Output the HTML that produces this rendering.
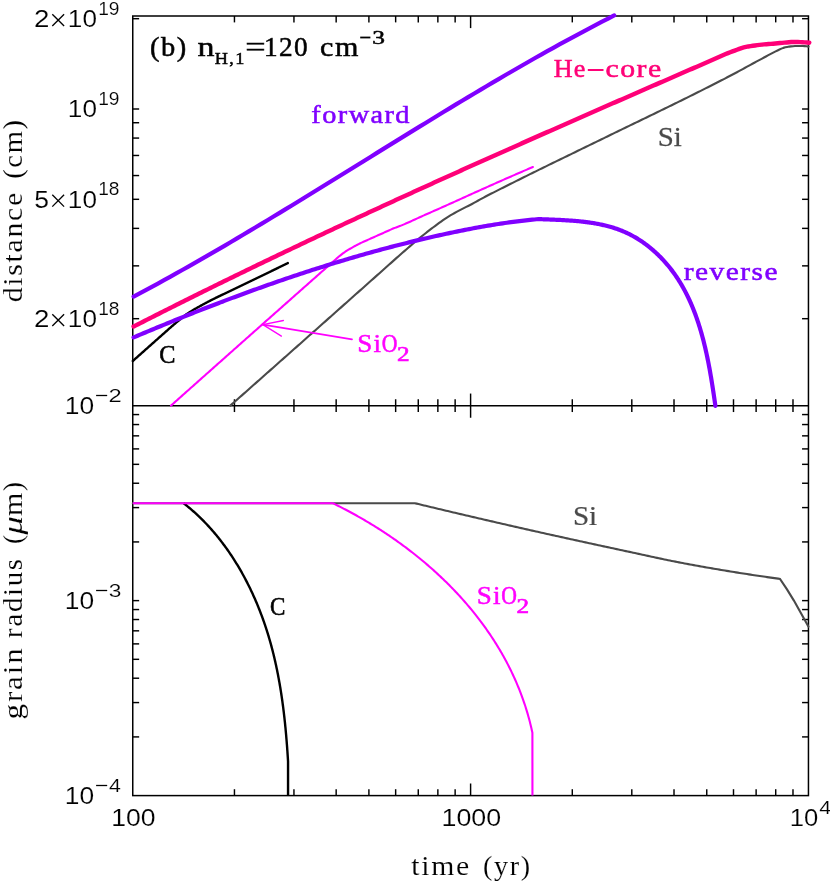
<!DOCTYPE html>
<html><head><meta charset="utf-8"><title>plot</title>
<style>
html,body{margin:0;padding:0;background:#fff;}
body{width:830px;height:882px;overflow:hidden;font-family:"Liberation Sans",sans-serif;}
svg{display:block;}
text{white-space:pre;}
</style></head><body>
<svg width="830" height="882" viewBox="0 0 830 882">
<rect width="830" height="882" fill="#fff"/>
<rect x="132.75" y="16" width="675.7" height="779.6" fill="none" stroke="#000" stroke-width="1.5"/>
<line x1="132.75" y1="405.65" x2="808.45" y2="405.65" stroke="#000" stroke-width="1.5" stroke-linecap="butt"/>
<line x1="234.45" y1="16" x2="234.45" y2="22.4" stroke="#000" stroke-width="1.45" stroke-linecap="butt"/>
<line x1="234.45" y1="399.25" x2="234.45" y2="412.05" stroke="#000" stroke-width="1.45" stroke-linecap="butt"/>
<line x1="234.45" y1="789.2" x2="234.45" y2="795.6" stroke="#000" stroke-width="1.45" stroke-linecap="butt"/>
<line x1="293.95" y1="16" x2="293.95" y2="22.4" stroke="#000" stroke-width="1.45" stroke-linecap="butt"/>
<line x1="293.95" y1="399.25" x2="293.95" y2="412.05" stroke="#000" stroke-width="1.45" stroke-linecap="butt"/>
<line x1="293.95" y1="789.2" x2="293.95" y2="795.6" stroke="#000" stroke-width="1.45" stroke-linecap="butt"/>
<line x1="336.16" y1="16" x2="336.16" y2="22.4" stroke="#000" stroke-width="1.45" stroke-linecap="butt"/>
<line x1="336.16" y1="399.25" x2="336.16" y2="412.05" stroke="#000" stroke-width="1.45" stroke-linecap="butt"/>
<line x1="336.16" y1="789.2" x2="336.16" y2="795.6" stroke="#000" stroke-width="1.45" stroke-linecap="butt"/>
<line x1="368.9" y1="16" x2="368.9" y2="22.4" stroke="#000" stroke-width="1.45" stroke-linecap="butt"/>
<line x1="368.9" y1="399.25" x2="368.9" y2="412.05" stroke="#000" stroke-width="1.45" stroke-linecap="butt"/>
<line x1="368.9" y1="789.2" x2="368.9" y2="795.6" stroke="#000" stroke-width="1.45" stroke-linecap="butt"/>
<line x1="395.65" y1="16" x2="395.65" y2="22.4" stroke="#000" stroke-width="1.45" stroke-linecap="butt"/>
<line x1="395.65" y1="399.25" x2="395.65" y2="412.05" stroke="#000" stroke-width="1.45" stroke-linecap="butt"/>
<line x1="395.65" y1="789.2" x2="395.65" y2="795.6" stroke="#000" stroke-width="1.45" stroke-linecap="butt"/>
<line x1="418.27" y1="16" x2="418.27" y2="22.4" stroke="#000" stroke-width="1.45" stroke-linecap="butt"/>
<line x1="418.27" y1="399.25" x2="418.27" y2="412.05" stroke="#000" stroke-width="1.45" stroke-linecap="butt"/>
<line x1="418.27" y1="789.2" x2="418.27" y2="795.6" stroke="#000" stroke-width="1.45" stroke-linecap="butt"/>
<line x1="437.86" y1="16" x2="437.86" y2="22.4" stroke="#000" stroke-width="1.45" stroke-linecap="butt"/>
<line x1="437.86" y1="399.25" x2="437.86" y2="412.05" stroke="#000" stroke-width="1.45" stroke-linecap="butt"/>
<line x1="437.86" y1="789.2" x2="437.86" y2="795.6" stroke="#000" stroke-width="1.45" stroke-linecap="butt"/>
<line x1="455.14" y1="16" x2="455.14" y2="22.4" stroke="#000" stroke-width="1.45" stroke-linecap="butt"/>
<line x1="455.14" y1="399.25" x2="455.14" y2="412.05" stroke="#000" stroke-width="1.45" stroke-linecap="butt"/>
<line x1="455.14" y1="789.2" x2="455.14" y2="795.6" stroke="#000" stroke-width="1.45" stroke-linecap="butt"/>
<line x1="470.6" y1="16" x2="470.6" y2="28.1" stroke="#000" stroke-width="1.45" stroke-linecap="butt"/>
<line x1="470.6" y1="393.55" x2="470.6" y2="417.75" stroke="#000" stroke-width="1.45" stroke-linecap="butt"/>
<line x1="470.6" y1="783.5" x2="470.6" y2="795.6" stroke="#000" stroke-width="1.45" stroke-linecap="butt"/>
<line x1="572.3" y1="16" x2="572.3" y2="22.4" stroke="#000" stroke-width="1.45" stroke-linecap="butt"/>
<line x1="572.3" y1="399.25" x2="572.3" y2="412.05" stroke="#000" stroke-width="1.45" stroke-linecap="butt"/>
<line x1="572.3" y1="789.2" x2="572.3" y2="795.6" stroke="#000" stroke-width="1.45" stroke-linecap="butt"/>
<line x1="631.8" y1="16" x2="631.8" y2="22.4" stroke="#000" stroke-width="1.45" stroke-linecap="butt"/>
<line x1="631.8" y1="399.25" x2="631.8" y2="412.05" stroke="#000" stroke-width="1.45" stroke-linecap="butt"/>
<line x1="631.8" y1="789.2" x2="631.8" y2="795.6" stroke="#000" stroke-width="1.45" stroke-linecap="butt"/>
<line x1="674.01" y1="16" x2="674.01" y2="22.4" stroke="#000" stroke-width="1.45" stroke-linecap="butt"/>
<line x1="674.01" y1="399.25" x2="674.01" y2="412.05" stroke="#000" stroke-width="1.45" stroke-linecap="butt"/>
<line x1="674.01" y1="789.2" x2="674.01" y2="795.6" stroke="#000" stroke-width="1.45" stroke-linecap="butt"/>
<line x1="706.75" y1="16" x2="706.75" y2="22.4" stroke="#000" stroke-width="1.45" stroke-linecap="butt"/>
<line x1="706.75" y1="399.25" x2="706.75" y2="412.05" stroke="#000" stroke-width="1.45" stroke-linecap="butt"/>
<line x1="706.75" y1="789.2" x2="706.75" y2="795.6" stroke="#000" stroke-width="1.45" stroke-linecap="butt"/>
<line x1="733.5" y1="16" x2="733.5" y2="22.4" stroke="#000" stroke-width="1.45" stroke-linecap="butt"/>
<line x1="733.5" y1="399.25" x2="733.5" y2="412.05" stroke="#000" stroke-width="1.45" stroke-linecap="butt"/>
<line x1="733.5" y1="789.2" x2="733.5" y2="795.6" stroke="#000" stroke-width="1.45" stroke-linecap="butt"/>
<line x1="756.12" y1="16" x2="756.12" y2="22.4" stroke="#000" stroke-width="1.45" stroke-linecap="butt"/>
<line x1="756.12" y1="399.25" x2="756.12" y2="412.05" stroke="#000" stroke-width="1.45" stroke-linecap="butt"/>
<line x1="756.12" y1="789.2" x2="756.12" y2="795.6" stroke="#000" stroke-width="1.45" stroke-linecap="butt"/>
<line x1="775.71" y1="16" x2="775.71" y2="22.4" stroke="#000" stroke-width="1.45" stroke-linecap="butt"/>
<line x1="775.71" y1="399.25" x2="775.71" y2="412.05" stroke="#000" stroke-width="1.45" stroke-linecap="butt"/>
<line x1="775.71" y1="789.2" x2="775.71" y2="795.6" stroke="#000" stroke-width="1.45" stroke-linecap="butt"/>
<line x1="792.99" y1="16" x2="792.99" y2="22.4" stroke="#000" stroke-width="1.45" stroke-linecap="butt"/>
<line x1="792.99" y1="399.25" x2="792.99" y2="412.05" stroke="#000" stroke-width="1.45" stroke-linecap="butt"/>
<line x1="792.99" y1="789.2" x2="792.99" y2="795.6" stroke="#000" stroke-width="1.45" stroke-linecap="butt"/>
<line x1="132.75" y1="318.69" x2="139.15" y2="318.69" stroke="#000" stroke-width="1.45" stroke-linecap="butt"/>
<line x1="802.05" y1="318.69" x2="808.45" y2="318.69" stroke="#000" stroke-width="1.45" stroke-linecap="butt"/>
<line x1="132.75" y1="265.86" x2="139.15" y2="265.86" stroke="#000" stroke-width="1.45" stroke-linecap="butt"/>
<line x1="802.05" y1="265.86" x2="808.45" y2="265.86" stroke="#000" stroke-width="1.45" stroke-linecap="butt"/>
<line x1="132.75" y1="228.38" x2="139.15" y2="228.38" stroke="#000" stroke-width="1.45" stroke-linecap="butt"/>
<line x1="802.05" y1="228.38" x2="808.45" y2="228.38" stroke="#000" stroke-width="1.45" stroke-linecap="butt"/>
<line x1="132.75" y1="199.31" x2="139.15" y2="199.31" stroke="#000" stroke-width="1.45" stroke-linecap="butt"/>
<line x1="802.05" y1="199.31" x2="808.45" y2="199.31" stroke="#000" stroke-width="1.45" stroke-linecap="butt"/>
<line x1="132.75" y1="175.55" x2="139.15" y2="175.55" stroke="#000" stroke-width="1.45" stroke-linecap="butt"/>
<line x1="802.05" y1="175.55" x2="808.45" y2="175.55" stroke="#000" stroke-width="1.45" stroke-linecap="butt"/>
<line x1="132.75" y1="155.47" x2="139.15" y2="155.47" stroke="#000" stroke-width="1.45" stroke-linecap="butt"/>
<line x1="802.05" y1="155.47" x2="808.45" y2="155.47" stroke="#000" stroke-width="1.45" stroke-linecap="butt"/>
<line x1="132.75" y1="138.07" x2="139.15" y2="138.07" stroke="#000" stroke-width="1.45" stroke-linecap="butt"/>
<line x1="802.05" y1="138.07" x2="808.45" y2="138.07" stroke="#000" stroke-width="1.45" stroke-linecap="butt"/>
<line x1="132.75" y1="122.73" x2="139.15" y2="122.73" stroke="#000" stroke-width="1.45" stroke-linecap="butt"/>
<line x1="802.05" y1="122.73" x2="808.45" y2="122.73" stroke="#000" stroke-width="1.45" stroke-linecap="butt"/>
<line x1="132.75" y1="109" x2="139.15" y2="109" stroke="#000" stroke-width="1.45" stroke-linecap="butt"/>
<line x1="802.05" y1="109" x2="808.45" y2="109" stroke="#000" stroke-width="1.45" stroke-linecap="butt"/>
<line x1="132.75" y1="18.69" x2="139.15" y2="18.69" stroke="#000" stroke-width="1.45" stroke-linecap="butt"/>
<line x1="802.05" y1="18.69" x2="808.45" y2="18.69" stroke="#000" stroke-width="1.45" stroke-linecap="butt"/>
<line x1="132.75" y1="600.62" x2="139.15" y2="600.62" stroke="#000" stroke-width="1.45" stroke-linecap="butt"/>
<line x1="802.05" y1="600.62" x2="808.45" y2="600.62" stroke="#000" stroke-width="1.45" stroke-linecap="butt"/>
<line x1="132.75" y1="541.93" x2="139.15" y2="541.93" stroke="#000" stroke-width="1.45" stroke-linecap="butt"/>
<line x1="802.05" y1="541.93" x2="808.45" y2="541.93" stroke="#000" stroke-width="1.45" stroke-linecap="butt"/>
<line x1="132.75" y1="507.6" x2="139.15" y2="507.6" stroke="#000" stroke-width="1.45" stroke-linecap="butt"/>
<line x1="802.05" y1="507.6" x2="808.45" y2="507.6" stroke="#000" stroke-width="1.45" stroke-linecap="butt"/>
<line x1="132.75" y1="483.24" x2="139.15" y2="483.24" stroke="#000" stroke-width="1.45" stroke-linecap="butt"/>
<line x1="802.05" y1="483.24" x2="808.45" y2="483.24" stroke="#000" stroke-width="1.45" stroke-linecap="butt"/>
<line x1="132.75" y1="464.34" x2="139.15" y2="464.34" stroke="#000" stroke-width="1.45" stroke-linecap="butt"/>
<line x1="802.05" y1="464.34" x2="808.45" y2="464.34" stroke="#000" stroke-width="1.45" stroke-linecap="butt"/>
<line x1="132.75" y1="448.9" x2="139.15" y2="448.9" stroke="#000" stroke-width="1.45" stroke-linecap="butt"/>
<line x1="802.05" y1="448.9" x2="808.45" y2="448.9" stroke="#000" stroke-width="1.45" stroke-linecap="butt"/>
<line x1="132.75" y1="435.85" x2="139.15" y2="435.85" stroke="#000" stroke-width="1.45" stroke-linecap="butt"/>
<line x1="802.05" y1="435.85" x2="808.45" y2="435.85" stroke="#000" stroke-width="1.45" stroke-linecap="butt"/>
<line x1="132.75" y1="424.55" x2="139.15" y2="424.55" stroke="#000" stroke-width="1.45" stroke-linecap="butt"/>
<line x1="802.05" y1="424.55" x2="808.45" y2="424.55" stroke="#000" stroke-width="1.45" stroke-linecap="butt"/>
<line x1="132.75" y1="414.57" x2="139.15" y2="414.57" stroke="#000" stroke-width="1.45" stroke-linecap="butt"/>
<line x1="802.05" y1="414.57" x2="808.45" y2="414.57" stroke="#000" stroke-width="1.45" stroke-linecap="butt"/>
<line x1="132.75" y1="736.91" x2="139.15" y2="736.91" stroke="#000" stroke-width="1.45" stroke-linecap="butt"/>
<line x1="802.05" y1="736.91" x2="808.45" y2="736.91" stroke="#000" stroke-width="1.45" stroke-linecap="butt"/>
<line x1="132.75" y1="702.57" x2="139.15" y2="702.57" stroke="#000" stroke-width="1.45" stroke-linecap="butt"/>
<line x1="802.05" y1="702.57" x2="808.45" y2="702.57" stroke="#000" stroke-width="1.45" stroke-linecap="butt"/>
<line x1="132.75" y1="678.21" x2="139.15" y2="678.21" stroke="#000" stroke-width="1.45" stroke-linecap="butt"/>
<line x1="802.05" y1="678.21" x2="808.45" y2="678.21" stroke="#000" stroke-width="1.45" stroke-linecap="butt"/>
<line x1="132.75" y1="659.32" x2="139.15" y2="659.32" stroke="#000" stroke-width="1.45" stroke-linecap="butt"/>
<line x1="802.05" y1="659.32" x2="808.45" y2="659.32" stroke="#000" stroke-width="1.45" stroke-linecap="butt"/>
<line x1="132.75" y1="643.88" x2="139.15" y2="643.88" stroke="#000" stroke-width="1.45" stroke-linecap="butt"/>
<line x1="802.05" y1="643.88" x2="808.45" y2="643.88" stroke="#000" stroke-width="1.45" stroke-linecap="butt"/>
<line x1="132.75" y1="630.83" x2="139.15" y2="630.83" stroke="#000" stroke-width="1.45" stroke-linecap="butt"/>
<line x1="802.05" y1="630.83" x2="808.45" y2="630.83" stroke="#000" stroke-width="1.45" stroke-linecap="butt"/>
<line x1="132.75" y1="619.52" x2="139.15" y2="619.52" stroke="#000" stroke-width="1.45" stroke-linecap="butt"/>
<line x1="802.05" y1="619.52" x2="808.45" y2="619.52" stroke="#000" stroke-width="1.45" stroke-linecap="butt"/>
<line x1="132.75" y1="609.55" x2="139.15" y2="609.55" stroke="#000" stroke-width="1.45" stroke-linecap="butt"/>
<line x1="802.05" y1="609.55" x2="808.45" y2="609.55" stroke="#000" stroke-width="1.45" stroke-linecap="butt"/>
<path d="M230.3 405.6 L232.23 403.89 L234.17 402.18 L236.1 400.47 L238.04 398.76 L239.97 397.05 L241.9 395.34 L243.84 393.63 L245.77 391.92 L247.7 390.2 L249.64 388.49 L251.57 386.78 L253.51 385.07 L255.44 383.36 L257.37 381.64 L259.31 379.93 L261.24 378.22 L263.17 376.5 L265.11 374.79 L267.04 373.08 L268.98 371.36 L270.91 369.65 L272.84 367.94 L274.78 366.22 L276.71 364.51 L278.64 362.79 L280.58 361.08 L282.51 359.36 L284.45 357.65 L286.38 355.93 L288.31 354.22 L290.25 352.5 L292.18 350.78 L294.11 349.07 L296.05 347.35 L297.98 345.64 L299.92 343.92 L301.85 342.2 L303.78 340.49 L305.72 338.77 L307.65 337.05 L309.58 335.33 L311.52 333.62 L313.45 331.9 L315.39 330.18 L317.32 328.46 L319.25 326.75 L321.19 325.03 L323.12 323.31 L325.06 321.59 L326.99 319.87 L328.92 318.15 L330.86 316.44 L332.79 314.72 L334.72 313 L336.66 311.28 L338.59 309.56 L340.53 307.84 L342.46 306.12 L344.39 304.4 L346.33 302.68 L348.26 300.96 L350.19 299.24 L352.13 297.52 L354.06 295.8 L356 294.08 L357.93 292.36 L359.86 290.64 L361.8 288.92 L363.73 287.2 L365.66 285.48 L367.6 283.76 L369.53 282.04 L371.47 280.32 L373.4 278.6 L375.33 276.88 L377.27 275.15 L379.2 273.43 L381.13 271.71 L383.07 269.99 L385 268.27 L386.94 266.55 L388.87 264.82 L390.8 263.1 L392.74 261.36 L394.67 259.63 L396.61 257.91 L398.54 256.19 L400.47 254.48 L402.41 252.79 L404.34 251.1 L406.27 249.42 L408.21 247.75 L410.14 246.09 L412.08 244.44 L414.01 242.79 L415.94 241.15 L417.88 239.52 L419.81 237.9 L421.74 236.31 L423.68 234.74 L425.61 233.2 L427.55 231.68 L429.48 230.18 L431.41 228.7 L433.35 227.24 L435.28 225.8 L437.21 224.38 L439.15 222.96 L441.08 221.55 L443.02 220.17 L444.95 218.82 L446.88 217.54 L448.82 216.32 L450.75 215.16 L452.68 214.06 L454.62 212.99 L456.55 211.95 L458.49 210.91 L460.42 209.88 L462.35 208.87 L464.29 207.88 L466.22 206.91 L468.15 205.94 L470.09 204.95 L472.02 203.95 L473.96 202.91 L475.89 201.84 L477.82 200.77 L479.76 199.68 L481.69 198.61 L483.63 197.56 L485.56 196.54 L487.49 195.53 L489.43 194.54 L491.36 193.55 L493.29 192.57 L495.23 191.6 L497.16 190.63 L499.1 189.66 L501.03 188.68 L502.96 187.7 L504.9 186.73 L506.83 185.76 L508.76 184.79 L510.7 183.81 L512.63 182.85 L514.57 181.88 L516.5 180.91 L518.43 179.95 L520.37 178.98 L522.3 178.02 L524.23 177.06 L526.17 176.1 L528.1 175.14 L530.04 174.18 L531.97 173.23 L533.9 172.27 L535.84 171.32 L537.77 170.37 L539.7 169.42 L541.64 168.47 L543.57 167.52 L545.51 166.57 L547.44 165.62 L549.37 164.68 L551.31 163.73 L553.24 162.79 L555.17 161.85 L557.11 160.9 L559.04 159.96 L560.98 159.02 L562.91 158.08 L564.84 157.14 L566.78 156.2 L568.71 155.26 L570.65 154.32 L572.58 153.38 L574.51 152.44 L576.45 151.5 L578.38 150.56 L580.31 149.62 L582.25 148.68 L584.18 147.75 L586.12 146.81 L588.05 145.87 L589.98 144.93 L591.92 143.99 L593.85 143.05 L595.78 142.1 L597.72 141.16 L599.65 140.22 L601.59 139.28 L603.52 138.33 L605.45 137.39 L607.39 136.45 L609.32 135.51 L611.25 134.56 L613.19 133.62 L615.12 132.68 L617.06 131.75 L618.99 130.81 L620.92 129.87 L622.86 128.93 L624.79 127.99 L626.72 127.06 L628.66 126.12 L630.59 125.18 L632.53 124.25 L634.46 123.31 L636.39 122.37 L638.33 121.44 L640.26 120.5 L642.19 119.56 L644.13 118.63 L646.06 117.69 L648 116.75 L649.93 115.81 L651.86 114.88 L653.8 113.94 L655.73 113 L657.67 112.06 L659.6 111.12 L661.53 110.18 L663.47 109.23 L665.4 108.29 L667.33 107.35 L669.27 106.4 L671.2 105.45 L673.14 104.51 L675.07 103.56 L677 102.61 L678.94 101.66 L680.87 100.71 L682.8 99.75 L684.74 98.8 L686.67 97.84 L688.61 96.88 L690.54 95.92 L692.47 94.96 L694.41 94 L696.34 93.03 L698.27 92.06 L700.21 91.1 L702.14 90.12 L704.08 89.15 L706.01 88.18 L707.94 87.2 L709.88 86.23 L711.81 85.25 L713.74 84.26 L715.68 83.28 L717.61 82.29 L719.55 81.3 L721.48 80.3 L723.41 79.31 L725.35 78.31 L727.28 77.3 L729.22 76.29 L731.15 75.28 L733.08 74.26 L735.02 73.23 L736.95 72.2 L738.88 71.16 L740.82 70.11 L742.75 69.06 L744.69 68 L746.62 66.95 L748.55 65.89 L750.49 64.84 L752.42 63.78 L754.35 62.73 L756.29 61.68 L758.22 60.64 L760.16 59.6 L762.09 58.57 L764.02 57.54 L765.96 56.49 L767.89 55.44 L769.82 54.39 L771.76 53.35 L773.69 52.34 L775.63 51.37 L777.56 50.44 L779.49 49.55 L781.43 48.65 L783.36 47.87 L785.29 47.33 L787.23 46.92 L789.16 46.59 L791.1 46.37 L793.03 46.2 L794.96 46.06 L796.9 46 L798.83 46.01 L800.76 46.03 L802.7 46.07 L804.63 46.12 L806.57 46.2 L808.5 46.6" fill="none" stroke="#4a4a4a" stroke-width="2.1" stroke-linecap="round" stroke-linejoin="round" />
<path d="M171 405.6 L172.21 404.52 L173.42 403.44 L174.63 402.36 L175.84 401.28 L177.05 400.21 L178.26 399.13 L179.47 398.05 L180.68 396.97 L181.89 395.89 L183.1 394.81 L184.31 393.73 L185.52 392.66 L186.73 391.58 L187.95 390.5 L189.16 389.42 L190.37 388.34 L191.58 387.27 L192.79 386.19 L194 385.11 L195.21 384.03 L196.42 382.96 L197.63 381.88 L198.84 380.8 L200.05 379.73 L201.26 378.65 L202.47 377.57 L203.68 376.49 L204.89 375.42 L206.1 374.34 L207.31 373.26 L208.52 372.19 L209.73 371.11 L210.94 370.03 L212.15 368.96 L213.36 367.88 L214.57 366.8 L215.78 365.73 L216.99 364.65 L218.2 363.58 L219.41 362.5 L220.63 361.42 L221.84 360.35 L223.05 359.27 L224.26 358.2 L225.47 357.12 L226.68 356.05 L227.89 354.97 L229.1 353.89 L230.31 352.82 L231.52 351.74 L232.73 350.67 L233.94 349.59 L235.15 348.52 L236.36 347.44 L237.57 346.37 L238.78 345.29 L239.99 344.22 L241.2 343.14 L242.41 342.07 L243.62 340.99 L244.83 339.92 L246.04 338.84 L247.25 337.77 L248.46 336.69 L249.67 335.62 L250.88 334.55 L252.09 333.47 L253.31 332.4 L254.52 331.32 L255.73 330.25 L256.94 329.17 L258.15 328.1 L259.36 327.03 L260.57 325.95 L261.78 324.88 L262.99 323.8 L264.2 322.73 L265.41 321.66 L266.62 320.58 L267.83 319.51 L269.04 318.44 L270.25 317.36 L271.46 316.29 L272.67 315.22 L273.88 314.14 L275.09 313.07 L276.3 312 L277.51 310.92 L278.72 309.85 L279.93 308.78 L281.14 307.7 L282.35 306.63 L283.56 305.56 L284.77 304.48 L285.98 303.41 L287.2 302.34 L288.41 301.26 L289.62 300.19 L290.83 299.12 L292.04 298.05 L293.25 296.97 L294.46 295.9 L295.67 294.83 L296.88 293.76 L298.09 292.68 L299.3 291.61 L300.51 290.54 L301.72 289.47 L302.93 288.39 L304.14 287.32 L305.35 286.25 L306.56 285.18 L307.77 284.1 L308.98 283.03 L310.19 281.96 L311.4 280.89 L312.61 279.81 L313.82 278.74 L315.03 277.67 L316.24 276.6 L317.45 275.53 L318.66 274.45 L319.88 273.38 L321.09 272.31 L322.3 271.24 L323.51 270.16 L324.72 269.09 L325.93 268.02 L327.14 266.94 L328.35 265.87 L329.56 264.8 L330.77 263.73 L331.98 262.66 L333.19 261.6 L334.4 260.54 L335.61 259.46 L336.82 258.39 L338.03 257.33 L339.24 256.3 L340.45 255.32 L341.66 254.38 L342.87 253.46 L344.08 252.58 L345.29 251.74 L346.5 250.94 L347.71 250.19 L348.92 249.47 L350.13 248.77 L351.34 248.08 L352.56 247.4 L353.77 246.71 L354.98 246.03 L356.19 245.36 L357.4 244.71 L358.61 244.1 L359.82 243.5 L361.03 242.92 L362.24 242.36 L363.45 241.81 L364.66 241.27 L365.87 240.73 L367.08 240.19 L368.29 239.66 L369.5 239.12 L370.71 238.57 L371.92 238.02 L373.13 237.48 L374.34 236.94 L375.55 236.4 L376.76 235.86 L377.97 235.32 L379.18 234.78 L380.39 234.25 L381.6 233.71 L382.81 233.17 L384.02 232.63 L385.24 232.08 L386.45 231.52 L387.66 230.97 L388.87 230.42 L390.08 229.88 L391.29 229.35 L392.5 228.84 L393.71 228.34 L394.92 227.86 L396.13 227.41 L397.34 226.98 L398.55 226.55 L399.76 226.09 L400.97 225.61 L402.18 225.12 L403.39 224.62 L404.6 224.1 L405.81 223.58 L407.02 223.05 L408.23 222.52 L409.44 221.98 L410.65 221.43 L411.86 220.88 L413.07 220.33 L414.28 219.77 L415.49 219.22 L416.7 218.66 L417.92 218.1 L419.13 217.55 L420.34 217 L421.55 216.45 L422.76 215.9 L423.97 215.36 L425.18 214.82 L426.39 214.29 L427.6 213.75 L428.81 213.21 L430.02 212.68 L431.23 212.14 L432.44 211.61 L433.65 211.07 L434.86 210.53 L436.07 210 L437.28 209.46 L438.49 208.92 L439.7 208.39 L440.91 207.85 L442.12 207.31 L443.33 206.77 L444.54 206.23 L445.75 205.69 L446.96 205.15 L448.17 204.61 L449.38 204.07 L450.59 203.52 L451.81 202.98 L453.02 202.43 L454.23 201.89 L455.44 201.34 L456.65 200.79 L457.86 200.24 L459.07 199.69 L460.28 199.14 L461.49 198.59 L462.7 198.04 L463.91 197.49 L465.12 196.95 L466.33 196.4 L467.54 195.85 L468.75 195.3 L469.96 194.75 L471.17 194.21 L472.38 193.66 L473.59 193.12 L474.8 192.57 L476.01 192.03 L477.22 191.48 L478.43 190.94 L479.64 190.39 L480.85 189.85 L482.06 189.3 L483.27 188.76 L484.49 188.22 L485.7 187.67 L486.91 187.13 L488.12 186.59 L489.33 186.05 L490.54 185.5 L491.75 184.96 L492.96 184.42 L494.17 183.89 L495.38 183.35 L496.59 182.81 L497.8 182.27 L499.01 181.74 L500.22 181.2 L501.43 180.67 L502.64 180.14 L503.85 179.6 L505.06 179.07 L506.27 178.54 L507.48 178.01 L508.69 177.48 L509.9 176.95 L511.11 176.42 L512.32 175.89 L513.53 175.36 L514.74 174.84 L515.95 174.31 L517.17 173.78 L518.38 173.26 L519.59 172.73 L520.8 172.21 L522.01 171.68 L523.22 171.16 L524.43 170.64 L525.64 170.12 L526.85 169.6 L528.06 169.08 L529.27 168.56 L530.48 168.04 L531.69 167.52 L532.9 167" fill="none" stroke="#ff00ff" stroke-width="2.1" stroke-linecap="round" stroke-linejoin="round" />
<path d="M132.8 361 L133.58 360.31 L134.36 359.61 L135.14 358.92 L135.92 358.22 L136.69 357.53 L137.47 356.84 L138.25 356.14 L139.03 355.45 L139.81 354.76 L140.59 354.07 L141.37 353.37 L142.15 352.68 L142.93 351.99 L143.7 351.29 L144.48 350.6 L145.26 349.91 L146.04 349.22 L146.82 348.52 L147.6 347.83 L148.38 347.14 L149.16 346.45 L149.94 345.76 L150.71 345.07 L151.49 344.37 L152.27 343.68 L153.05 342.99 L153.83 342.3 L154.61 341.61 L155.39 340.92 L156.17 340.22 L156.95 339.53 L157.72 338.84 L158.5 338.15 L159.28 337.46 L160.06 336.77 L160.84 336.08 L161.62 335.39 L162.4 334.7 L163.18 334.01 L163.96 333.32 L164.73 332.63 L165.51 331.95 L166.29 331.26 L167.07 330.56 L167.85 329.87 L168.63 329.18 L169.41 328.48 L170.19 327.79 L170.97 327.1 L171.74 326.42 L172.52 325.73 L173.3 325.06 L174.08 324.38 L174.86 323.72 L175.64 323.06 L176.42 322.41 L177.2 321.76 L177.98 321.12 L178.75 320.48 L179.53 319.85 L180.31 319.21 L181.09 318.58 L181.87 317.94 L182.65 317.3 L183.43 316.65 L184.21 316 L184.99 315.37 L185.76 314.77 L186.54 314.21 L187.32 313.67 L188.1 313.14 L188.88 312.63 L189.66 312.14 L190.44 311.65 L191.22 311.17 L192 310.7 L192.77 310.24 L193.55 309.78 L194.33 309.33 L195.11 308.88 L195.89 308.44 L196.67 308 L197.45 307.56 L198.23 307.13 L199.01 306.7 L199.78 306.28 L200.56 305.85 L201.34 305.42 L202.12 305 L202.9 304.57 L203.68 304.15 L204.46 303.73 L205.24 303.31 L206.02 302.89 L206.79 302.48 L207.57 302.06 L208.35 301.65 L209.13 301.25 L209.91 300.84 L210.69 300.44 L211.47 300.04 L212.25 299.64 L213.03 299.24 L213.81 298.85 L214.58 298.46 L215.36 298.07 L216.14 297.69 L216.92 297.31 L217.7 296.93 L218.48 296.55 L219.26 296.18 L220.04 295.81 L220.82 295.44 L221.59 295.07 L222.37 294.7 L223.15 294.34 L223.93 293.97 L224.71 293.61 L225.49 293.24 L226.27 292.87 L227.05 292.51 L227.83 292.14 L228.6 291.77 L229.38 291.4 L230.16 291.02 L230.94 290.65 L231.72 290.27 L232.5 289.9 L233.28 289.53 L234.06 289.15 L234.84 288.78 L235.61 288.4 L236.39 288.03 L237.17 287.65 L237.95 287.28 L238.73 286.9 L239.51 286.53 L240.29 286.15 L241.07 285.78 L241.85 285.4 L242.62 285.03 L243.4 284.65 L244.18 284.28 L244.96 283.9 L245.74 283.53 L246.52 283.15 L247.3 282.77 L248.08 282.4 L248.86 282.02 L249.63 281.65 L250.41 281.27 L251.19 280.89 L251.97 280.52 L252.75 280.14 L253.53 279.77 L254.31 279.39 L255.09 279.01 L255.87 278.64 L256.64 278.26 L257.42 277.88 L258.2 277.51 L258.98 277.13 L259.76 276.75 L260.54 276.37 L261.32 276 L262.1 275.62 L262.88 275.24 L263.65 274.86 L264.43 274.49 L265.21 274.11 L265.99 273.73 L266.77 273.35 L267.55 272.97 L268.33 272.6 L269.11 272.22 L269.89 271.84 L270.66 271.46 L271.44 271.08 L272.22 270.7 L273 270.32 L273.78 269.94 L274.56 269.57 L275.34 269.19 L276.12 268.81 L276.9 268.43 L277.67 268.05 L278.45 267.67 L279.23 267.29 L280.01 266.91 L280.79 266.53 L281.57 266.15 L282.35 265.77 L283.13 265.39 L283.91 265.01 L284.68 264.62 L285.46 264.24 L286.24 263.86 L287.02 263.48 L287.8 263.1" fill="none" stroke="#000" stroke-width="2.4" stroke-linecap="round" stroke-linejoin="round" />
<path d="M133.6 337.4 L135.56 336.57 L137.51 335.75 L139.47 334.92 L141.43 334.1 L143.39 333.28 L145.35 332.46 L147.31 331.64 L149.27 330.82 L151.23 330 L153.19 329.19 L155.16 328.37 L157.12 327.56 L159.09 326.75 L161.05 325.94 L163.02 325.13 L164.99 324.33 L166.95 323.52 L168.92 322.72 L170.89 321.92 L172.86 321.12 L174.83 320.32 L176.81 319.52 L178.78 318.72 L180.75 317.93 L182.73 317.14 L184.7 316.35 L186.68 315.56 L188.65 314.77 L190.63 313.98 L192.61 313.2 L194.59 312.42 L196.57 311.64 L198.55 310.86 L200.53 310.08 L202.51 309.31 L204.5 308.53 L206.48 307.76 L208.46 306.99 L210.45 306.22 L212.44 305.46 L214.42 304.69 L216.41 303.93 L218.4 303.17 L220.39 302.41 L222.38 301.66 L224.37 300.9 L226.36 300.15 L228.35 299.4 L230.35 298.65 L232.34 297.9 L234.33 297.16 L236.33 296.41 L238.33 295.67 L240.32 294.94 L242.32 294.2 L244.32 293.47 L246.32 292.73 L248.32 292 L250.32 291.28 L252.32 290.55 L254.33 289.83 L256.33 289.1 L258.33 288.39 L260.34 287.67 L262.34 286.95 L264.35 286.24 L266.36 285.53 L268.37 284.82 L270.38 284.12 L272.39 283.42 L274.4 282.71 L276.41 282.02 L278.42 281.32 L280.43 280.63 L282.45 279.94 L284.46 279.25 L286.48 278.56 L288.49 277.88 L290.51 277.19 L292.53 276.52 L294.55 275.84 L296.57 275.16 L298.59 274.49 L300.61 273.82 L302.63 273.16 L304.65 272.49 L306.68 271.83 L308.7 271.17 L310.73 270.52 L312.75 269.86 L314.78 269.21 L316.81 268.57 L318.84 267.92 L320.87 267.28 L322.9 266.64 L324.93 266 L326.96 265.37 L328.99 264.73 L331.03 264.1 L333.06 263.48 L335.09 262.85 L337.13 262.23 L339.17 261.62 L341.2 261 L343.24 260.39 L345.28 259.78 L347.32 259.17 L349.36 258.57 L351.4 257.97 L353.45 257.37 L355.49 256.78 L357.53 256.19 L359.58 255.6 L361.63 255.01 L363.67 254.43 L365.72 253.85 L367.77 253.27 L369.82 252.7 L371.87 252.13 L373.92 251.56 L375.97 251 L378.02 250.44 L380.07 249.88 L382.13 249.32 L384.18 248.77 L386.24 248.22 L388.3 247.68 L390.35 247.14 L392.41 246.6 L394.47 246.06 L396.53 245.53 L398.59 245 L400.65 244.48 L402.72 243.95 L404.78 243.43 L406.84 242.92 L408.91 242.41 L410.97 241.9 L413.04 241.39 L415.11 240.89 L417.18 240.39 L419.25 239.89 L421.32 239.4 L423.39 238.91 L425.46 238.43 L427.53 237.95 L429.6 237.47 L431.68 237 L433.75 236.52 L435.83 236.06 L437.91 235.59 L439.98 235.13 L442.06 234.68 L444.14 234.22 L446.22 233.77 L448.3 233.33 L450.38 232.89 L452.47 232.45 L454.55 232.01 L456.64 231.58 L458.72 231.16 L460.81 230.73 L462.89 230.32 L464.98 229.9 L467.07 229.49 L469.16 229.09 L471.25 228.69 L473.34 228.29 L475.43 227.9 L477.53 227.52 L479.62 227.14 L481.72 226.76 L483.81 226.4 L485.91 226.03 L488 225.67 L490.1 225.32 L492.2 224.98 L494.3 224.64 L496.4 224.3 L498.5 223.97 L500.61 223.65 L502.71 223.34 L504.81 223.03 L506.92 222.73 L509.03 222.43 L511.13 222.15 L513.24 221.87 L515.35 221.59 L517.46 221.33 L519.57 221.07 L521.68 220.82 L523.79 220.58 L525.9 220.34 L528.02 220.11 L530.13 219.89 L532.25 219.68 L534.36 219.48 L536.48 219.28 L538.6 219.1 L539.56 219.14 L540.53 219.18 L541.5 219.22 L542.46 219.25 L543.44 219.29 L544.41 219.33 L545.38 219.36 L546.36 219.4 L547.34 219.44 L548.32 219.47 L549.3 219.51 L550.28 219.55 L551.26 219.59 L552.24 219.63 L553.23 219.67 L554.21 219.71 L555.2 219.75 L556.19 219.79 L557.18 219.83 L558.17 219.88 L559.16 219.92 L560.15 219.97 L561.14 220.02 L562.13 220.07 L563.12 220.12 L564.12 220.18 L565.11 220.23 L566.1 220.29 L567.1 220.35 L568.09 220.41 L569.08 220.48 L570.08 220.55 L571.07 220.62 L572.06 220.69 L573.06 220.76 L574.05 220.84 L575.04 220.92 L576.04 221.01 L577.03 221.1 L578.02 221.19 L579.01 221.28 L580 221.38 L580.99 221.48 L581.98 221.59 L582.96 221.7 L583.95 221.81 L584.94 221.93 L585.92 222.05 L586.9 222.18 L587.89 222.31 L588.87 222.44 L589.85 222.58 L590.83 222.73 L591.8 222.87 L592.78 223.03 L593.75 223.19 L594.72 223.35 L595.7 223.52 L596.66 223.7 L597.63 223.88 L598.6 224.06 L599.56 224.25 L600.52 224.45 L601.48 224.65 L602.44 224.86 L603.39 225.08 L604.34 225.3 L605.29 225.53 L606.24 225.76 L607.19 226 L608.13 226.25 L609.07 226.5 L610.01 226.76 L610.94 227.03 L611.87 227.3 L612.8 227.59 L613.73 227.87 L614.65 228.17 L615.57 228.47 L616.49 228.79 L617.4 229.1 L618.31 229.43 L619.22 229.77 L620.12 230.11 L621.02 230.46 L621.92 230.82 L622.81 231.18 L623.7 231.56 L624.59 231.94 L625.47 232.34 L626.35 232.74 L627.22 233.15 L628.09 233.56 L628.96 233.99 L629.82 234.42 L630.68 234.86 L631.53 235.31 L632.39 235.77 L633.23 236.23 L634.08 236.71 L634.91 237.19 L635.75 237.67 L636.58 238.17 L637.41 238.67 L638.23 239.18 L639.05 239.7 L639.86 240.22 L640.67 240.75 L641.48 241.29 L642.28 241.84 L643.08 242.39 L643.87 242.95 L644.66 243.52 L645.44 244.09 L646.22 244.67 L646.99 245.25 L647.77 245.85 L648.53 246.44 L649.29 247.05 L650.05 247.66 L650.8 248.28 L651.55 248.9 L652.29 249.53 L653.03 250.17 L653.76 250.81 L654.49 251.46 L655.21 252.11 L655.93 252.77 L656.65 253.43 L657.36 254.1 L658.06 254.78 L658.76 255.46 L659.45 256.15 L660.14 256.84 L660.83 257.53 L661.51 258.24 L662.18 258.94 L662.85 259.66 L663.51 260.37 L664.17 261.1 L664.83 261.82 L665.47 262.55 L666.12 263.29 L666.76 264.03 L667.39 264.78 L668.01 265.52 L668.64 266.28 L669.25 267.04 L669.86 267.8 L670.47 268.57 L671.07 269.34 L671.66 270.11 L672.25 270.89 L672.84 271.67 L673.41 272.46 L673.99 273.25 L674.55 274.04 L675.11 274.84 L675.67 275.64 L676.22 276.45 L676.76 277.25 L677.3 278.07 L677.83 278.88 L678.36 279.7 L678.88 280.52 L679.4 281.35 L679.91 282.17 L680.42 283.01 L680.92 283.84 L681.42 284.68 L681.91 285.52 L682.4 286.36 L682.88 287.21 L683.35 288.06 L683.82 288.91 L684.29 289.77 L684.75 290.63 L685.21 291.49 L685.66 292.36 L686.11 293.23 L686.55 294.1 L686.99 294.97 L687.42 295.84 L687.85 296.72 L688.27 297.6 L688.69 298.49 L689.1 299.38 L689.51 300.26 L689.92 301.16 L690.32 302.05 L690.71 302.95 L691.1 303.84 L691.49 304.75 L691.87 305.65 L692.25 306.55 L692.63 307.46 L693 308.37 L693.37 309.28 L693.73 310.2 L694.09 311.11 L694.44 312.03 L694.79 312.95 L695.14 313.87 L695.48 314.8 L695.82 315.72 L696.15 316.65 L696.48 317.58 L696.81 318.51 L697.13 319.45 L697.45 320.38 L697.77 321.32 L698.08 322.26 L698.39 323.2 L698.69 324.14 L698.99 325.08 L699.29 326.02 L699.58 326.97 L699.88 327.92 L700.16 328.87 L700.45 329.82 L700.73 330.77 L701.01 331.72 L701.28 332.67 L701.55 333.63 L701.82 334.58 L702.08 335.54 L702.34 336.5 L702.6 337.46 L702.86 338.42 L703.11 339.38 L703.36 340.34 L703.61 341.3 L703.85 342.27 L704.09 343.23 L704.33 344.2 L704.57 345.16 L704.8 346.13 L705.03 347.1 L705.26 348.07 L705.48 349.04 L705.7 350 L705.92 350.97 L706.14 351.94 L706.35 352.92 L706.57 353.89 L706.78 354.86 L706.98 355.83 L707.19 356.8 L707.39 357.77 L707.59 358.75 L707.79 359.72 L707.99 360.69 L708.18 361.67 L708.37 362.64 L708.56 363.61 L708.75 364.58 L708.93 365.56 L709.12 366.53 L709.3 367.5 L709.48 368.48 L709.66 369.45 L709.83 370.42 L710.01 371.39 L710.18 372.36 L710.35 373.34 L710.52 374.31 L710.69 375.28 L710.85 376.25 L711.02 377.22 L711.18 378.19 L711.34 379.16 L711.5 380.12 L711.66 381.09 L711.82 382.06 L711.97 383.02 L712.13 383.99 L712.28 384.95 L712.43 385.92 L712.58 386.88 L712.73 387.84 L712.88 388.8 L713.03 389.76 L713.17 390.72 L713.32 391.68 L713.46 392.64 L713.61 393.59 L713.75 394.55 L713.89 395.5 L714.03 396.45 L714.17 397.4 L714.31 398.35 L714.45 399.3 L714.59 400.25 L714.72 401.19 L714.86 402.14 L714.99 403.08 L715.13 404.02 L715.26 404.96 L715.4 405.9" fill="none" stroke="#8000ff" stroke-width="4.2" stroke-linecap="round" stroke-linejoin="round" />
<path d="M133.6 326.57 L135.86 325.41 L138.12 324.26 L140.38 323.1 L142.64 321.95 L144.9 320.8 L147.16 319.65 L149.42 318.5 L151.68 317.36 L153.94 316.21 L156.2 315.07 L158.46 313.93 L160.72 312.79 L162.98 311.65 L165.24 310.51 L167.5 309.37 L169.76 308.23 L172.02 307.1 L174.28 305.96 L176.54 304.83 L178.8 303.7 L181.06 302.57 L183.32 301.44 L185.58 300.31 L187.84 299.19 L190.1 298.06 L192.36 296.94 L194.62 295.82 L196.88 294.69 L199.14 293.57 L201.4 292.46 L203.66 291.34 L205.92 290.22 L208.18 289.11 L210.44 287.99 L212.7 286.88 L214.96 285.77 L217.22 284.65 L219.47 283.55 L221.73 282.44 L223.99 281.33 L226.25 280.22 L228.51 279.12 L230.77 278.01 L233.03 276.91 L235.29 275.81 L237.55 274.71 L239.81 273.61 L242.07 272.51 L244.33 271.41 L246.59 270.32 L248.85 269.22 L251.11 268.13 L253.37 267.03 L255.63 265.94 L257.89 264.85 L260.15 263.76 L262.41 262.67 L264.67 261.59 L266.93 260.5 L269.19 259.41 L271.45 258.33 L273.71 257.24 L275.97 256.16 L278.23 255.08 L280.49 254 L282.75 252.92 L285.01 251.84 L287.27 250.76 L289.53 249.69 L291.79 248.61 L294.05 247.54 L296.31 246.46 L298.57 245.39 L300.83 244.32 L303.09 243.25 L305.35 242.18 L307.61 241.11 L309.87 240.04 L312.13 238.98 L314.39 237.91 L316.65 236.85 L318.91 235.78 L321.17 234.72 L323.43 233.66 L325.69 232.59 L327.95 231.53 L330.21 230.47 L332.47 229.42 L334.73 228.36 L336.99 227.3 L339.25 226.24 L341.51 225.19 L343.77 224.13 L346.03 223.08 L348.29 222.03 L350.55 220.98 L352.81 219.93 L355.07 218.88 L357.33 217.83 L359.59 216.78 L361.85 215.73 L364.11 214.68 L366.37 213.64 L368.63 212.59 L370.89 211.55 L373.15 210.5 L375.41 209.46 L377.67 208.42 L379.93 207.38 L382.19 206.34 L384.45 205.3 L386.71 204.26 L388.96 203.22 L391.22 202.18 L393.48 201.15 L395.74 200.11 L398 199.08 L400.26 198.04 L402.52 197.01 L404.78 195.98 L407.04 194.94 L409.3 193.91 L411.56 192.88 L413.82 191.85 L416.08 190.82 L418.34 189.79 L420.6 188.77 L422.86 187.74 L425.12 186.71 L427.38 185.69 L429.64 184.66 L431.9 183.64 L434.16 182.61 L436.42 181.59 L438.68 180.57 L440.94 179.54 L443.2 178.52 L445.46 177.5 L447.72 176.48 L449.98 175.46 L452.24 174.44 L454.5 173.42 L456.76 172.41 L459.02 171.39 L461.28 170.37 L463.54 169.36 L465.8 168.34 L468.06 167.33 L470.32 166.31 L472.58 165.3 L474.84 164.29 L477.1 163.27 L479.36 162.26 L481.62 161.25 L483.88 160.24 L486.14 159.23 L488.4 158.22 L490.66 157.21 L492.92 156.2 L495.18 155.19 L497.44 154.19 L499.7 153.18 L501.96 152.17 L504.22 151.17 L506.48 150.16 L508.74 149.16 L511 148.15 L513.26 147.15 L515.52 146.14 L517.78 145.14 L520.04 144.14 L522.3 143.13 L524.56 142.13 L526.82 141.13 L529.08 140.13 L531.34 139.13 L533.6 138.13 L535.86 137.13 L538.12 136.13 L540.38 135.13 L542.64 134.13 L544.9 133.13 L547.16 132.14 L549.42 131.14 L551.68 130.14 L553.94 129.14 L556.19 128.15 L558.45 127.15 L560.71 126.16 L562.97 125.16 L565.23 124.17 L567.49 123.17 L569.75 122.18 L572.01 121.19 L574.27 120.19 L576.53 119.2 L578.79 118.21 L581.05 117.21 L583.31 116.22 L585.57 115.23 L587.83 114.24 L590.09 113.25 L592.35 112.26 L594.61 111.27 L596.87 110.27 L599.13 109.28 L601.39 108.29 L603.65 107.31 L605.91 106.32 L608.17 105.33 L610.43 104.34 L612.69 103.35 L614.95 102.36 L617.21 101.37 L619.47 100.39 L621.73 99.4 L623.99 98.41 L626.25 97.42 L628.51 96.44 L630.77 95.45 L633.03 94.46 L635.29 93.48 L637.55 92.49 L639.81 91.5 L642.07 90.52 L644.33 89.53 L646.59 88.55 L648.85 87.56 L651.11 86.58 L653.37 85.59 L655.63 84.61 L657.89 83.62 L660.15 82.64 L662.41 81.65 L664.67 80.67 L666.93 79.68 L669.19 78.7 L671.45 77.72 L673.71 76.73 L675.97 75.75 L678.23 74.77 L680.49 73.78 L682.75 72.8 L685.01 71.81 L687.27 70.83 L689.53 69.85 L691.79 68.87 L694.05 67.88 L696.31 66.9 L698.57 65.92 L700.83 64.93 L703.09 63.95 L705.35 62.97 L707.61 61.98 L709.87 61 L712.13 60.02 L714.39 59.03 L716.65 58.02 L718.91 57.01 L721.17 56.01 L723.43 55.02 L725.68 54.06 L727.94 53.14 L730.2 52.26 L732.46 51.43 L734.72 50.6 L736.98 49.73 L739.24 48.84 L741.5 48.06 L743.76 47.42 L746.02 46.9 L748.28 46.46 L750.54 46.09 L752.8 45.76 L755.06 45.45 L757.32 45.17 L759.58 44.9 L761.84 44.66 L764.1 44.43 L766.36 44.23 L768.62 44.05 L770.88 43.87 L773.14 43.69 L775.4 43.49 L777.66 43.28 L779.92 43.06 L782.18 42.84 L784.44 42.65 L786.7 42.45 L788.96 42.24 L791.22 42.05 L793.48 41.93 L795.74 41.91 L798 41.98 L800.26 42.1 L802.52 42.23 L804.78 42.36 L807.04 42.52 L809.3 42.7" fill="none" stroke="#ff0078" stroke-width="4.4" stroke-linecap="round" stroke-linejoin="round" />
<path d="M133.6 296.58 L139.68 293.36 L145.77 290.11 L151.85 286.83 L157.93 283.53 L164.02 280.19 L170.1 276.83 L176.18 273.45 L182.27 270.04 L188.35 266.61 L194.44 263.16 L200.52 259.68 L206.6 256.18 L212.69 252.66 L218.77 249.13 L224.85 245.57 L230.94 241.99 L237.02 238.4 L243.1 234.8 L249.19 231.17 L255.27 227.53 L261.35 223.88 L267.44 220.22 L273.52 216.54 L279.61 212.85 L285.69 209.15 L291.77 205.44 L297.86 201.72 L303.94 197.99 L310.02 194.26 L316.11 190.52 L322.19 186.77 L328.27 183.02 L334.36 179.26 L340.44 175.5 L346.52 171.73 L352.61 167.97 L358.69 164.2 L364.77 160.43 L370.86 156.67 L376.94 152.9 L383.03 149.14 L389.11 145.38 L395.19 141.62 L401.28 137.87 L407.36 134.12 L413.44 130.38 L419.53 126.64 L425.61 122.92 L431.69 119.2 L437.78 115.49 L443.86 111.79 L449.94 108.1 L456.03 104.42 L462.11 100.76 L468.19 97.1 L474.28 93.47 L480.36 89.84 L486.45 86.23 L492.53 82.64 L498.61 79.07 L504.7 75.51 L510.78 71.98 L516.86 68.46 L522.95 64.96 L529.03 61.48 L535.11 58.03 L541.2 54.6 L547.28 51.19 L553.36 47.81 L559.45 44.45 L565.53 41.11 L571.62 37.81 L577.7 34.53 L583.78 31.28 L589.87 28.06 L595.95 24.87 L602.03 21.71 L608.12 18.58 L614.2 15.48" fill="none" stroke="#8000ff" stroke-width="4.2" stroke-linecap="round" stroke-linejoin="round" />
<path d="M132.8 503.2 L414.8 503.2 L414.8 503.2 L416.64 503.64 L418.47 504.08 L420.31 504.53 L422.14 504.97 L423.98 505.41 L425.81 505.85 L427.65 506.29 L429.48 506.73 L431.32 507.17 L433.15 507.6 L434.99 508.04 L436.82 508.48 L438.66 508.92 L440.49 509.35 L442.33 509.79 L444.16 510.23 L446 510.66 L447.83 511.1 L449.67 511.53 L451.5 511.96 L453.34 512.4 L455.17 512.83 L457.01 513.26 L458.84 513.69 L460.68 514.13 L462.51 514.56 L464.35 514.99 L466.18 515.42 L468.02 515.85 L469.86 516.28 L471.69 516.71 L473.53 517.13 L475.36 517.56 L477.2 517.99 L479.03 518.42 L480.87 518.84 L482.7 519.27 L484.54 519.7 L486.37 520.12 L488.21 520.55 L490.04 520.97 L491.88 521.39 L493.71 521.82 L495.55 522.24 L497.38 522.66 L499.22 523.09 L501.05 523.51 L502.89 523.93 L504.72 524.35 L506.56 524.77 L508.39 525.19 L510.23 525.61 L512.06 526.03 L513.9 526.45 L515.73 526.86 L517.57 527.28 L519.41 527.7 L521.24 528.12 L523.08 528.53 L524.91 528.95 L526.75 529.36 L528.58 529.78 L530.42 530.19 L532.25 530.61 L534.09 531.02 L535.92 531.43 L537.76 531.85 L539.59 532.26 L541.43 532.67 L543.26 533.08 L545.1 533.49 L546.93 533.9 L548.77 534.31 L550.6 534.72 L552.44 535.12 L554.27 535.53 L556.11 535.94 L557.94 536.34 L559.78 536.75 L561.61 537.15 L563.45 537.56 L565.28 537.96 L567.12 538.37 L568.95 538.77 L570.79 539.17 L572.63 539.57 L574.46 539.98 L576.3 540.38 L578.13 540.78 L579.97 541.18 L581.8 541.58 L583.64 541.98 L585.47 542.38 L587.31 542.78 L589.14 543.18 L590.98 543.58 L592.81 543.98 L594.65 544.37 L596.48 544.77 L598.32 545.17 L600.15 545.57 L601.99 545.96 L603.82 546.36 L605.66 546.76 L607.49 547.15 L609.33 547.55 L611.16 547.95 L613 548.34 L614.83 548.74 L616.67 549.13 L618.5 549.53 L620.34 549.92 L622.17 550.32 L624.01 550.71 L625.85 551.11 L627.68 551.5 L629.52 551.9 L631.35 552.29 L633.19 552.69 L635.02 553.08 L636.86 553.48 L638.69 553.88 L640.53 554.28 L642.36 554.68 L644.2 555.08 L646.03 555.48 L647.87 555.88 L649.7 556.28 L651.54 556.67 L653.37 557.07 L655.21 557.47 L657.04 557.86 L658.88 558.25 L660.71 558.64 L662.55 559.03 L664.38 559.41 L666.22 559.79 L668.05 560.17 L669.89 560.55 L671.72 560.92 L673.56 561.29 L675.39 561.65 L677.23 562.01 L679.07 562.37 L680.9 562.72 L682.74 563.07 L684.57 563.42 L686.41 563.77 L688.24 564.11 L690.08 564.45 L691.91 564.79 L693.75 565.13 L695.58 565.47 L697.42 565.8 L699.25 566.13 L701.09 566.46 L702.92 566.79 L704.76 567.12 L706.59 567.44 L708.43 567.76 L710.26 568.08 L712.1 568.4 L713.93 568.71 L715.77 569.02 L717.6 569.34 L719.44 569.65 L721.27 569.95 L723.11 570.26 L724.94 570.56 L726.78 570.86 L728.62 571.16 L730.45 571.46 L732.29 571.76 L734.12 572.05 L735.96 572.35 L737.79 572.64 L739.63 572.93 L741.46 573.22 L743.3 573.51 L745.13 573.79 L746.97 574.08 L748.8 574.36 L750.64 574.64 L752.47 574.92 L754.31 575.2 L756.14 575.48 L757.98 575.75 L759.81 576.02 L761.65 576.29 L763.48 576.56 L765.32 576.83 L767.15 577.1 L768.99 577.36 L770.82 577.62 L772.66 577.88 L774.49 578.14 L776.33 578.39 L778.16 578.65 L780 578.9 L787 589.4 L793.9 600.6 L801 613.2 L808.4 626.6" fill="none" stroke="#4a4a4a" stroke-width="2.1" stroke-linecap="round" stroke-linejoin="miter" />
<path d="M183.6 503.2 L184.74 504.09 L185.87 504.99 L186.99 505.89 L188.1 506.81 L189.21 507.73 L190.31 508.66 L191.4 509.6 L192.49 510.55 L193.57 511.5 L194.64 512.46 L195.71 513.43 L196.76 514.41 L197.81 515.39 L198.86 516.38 L199.89 517.38 L200.92 518.38 L201.95 519.39 L202.96 520.41 L203.97 521.43 L204.97 522.47 L205.97 523.51 L206.95 524.55 L207.93 525.6 L208.91 526.66 L209.87 527.72 L210.83 528.8 L211.79 529.87 L212.73 530.96 L213.67 532.05 L214.6 533.14 L215.53 534.24 L216.45 535.35 L217.36 536.46 L218.26 537.58 L219.16 538.71 L220.05 539.84 L220.94 540.97 L221.81 542.11 L222.68 543.26 L223.55 544.41 L224.41 545.57 L225.26 546.73 L226.1 547.9 L226.94 549.07 L227.77 550.25 L228.59 551.43 L229.41 552.62 L230.22 553.81 L231.03 555.01 L231.82 556.21 L232.61 557.42 L233.4 558.63 L234.18 559.84 L234.95 561.06 L235.71 562.28 L236.47 563.51 L237.22 564.74 L237.97 565.98 L238.71 567.22 L239.44 568.46 L240.16 569.71 L240.88 570.96 L241.6 572.21 L242.3 573.47 L243 574.73 L243.7 576 L244.38 577.27 L245.06 578.54 L245.74 579.82 L246.41 581.1 L247.07 582.38 L247.72 583.67 L248.37 584.96 L249.02 586.25 L249.65 587.55 L250.28 588.84 L250.91 590.15 L251.53 591.45 L252.14 592.76 L252.74 594.07 L253.34 595.39 L253.93 596.7 L254.52 598.02 L255.1 599.35 L255.68 600.67 L256.24 602 L256.81 603.33 L257.36 604.66 L257.91 606 L258.46 607.34 L259 608.68 L259.53 610.02 L260.05 611.37 L260.57 612.72 L261.09 614.07 L261.59 615.42 L262.1 616.78 L262.59 618.14 L263.08 619.5 L263.56 620.86 L264.04 622.22 L264.51 623.59 L264.98 624.96 L265.44 626.33 L265.89 627.7 L266.34 629.07 L266.79 630.45 L267.22 631.82 L267.65 633.2 L268.08 634.58 L268.5 635.97 L268.91 637.35 L269.32 638.74 L269.72 640.12 L270.12 641.51 L270.51 642.9 L270.89 644.3 L271.27 645.69 L271.65 647.08 L272.02 648.48 L272.38 649.88 L272.74 651.28 L273.09 652.68 L273.44 654.08 L273.78 655.48 L274.12 656.89 L274.45 658.29 L274.78 659.7 L275.1 661.11 L275.42 662.52 L275.73 663.93 L276.04 665.34 L276.34 666.75 L276.64 668.17 L276.94 669.58 L277.23 671 L277.51 672.42 L277.79 673.84 L278.07 675.25 L278.34 676.67 L278.6 678.1 L278.86 679.52 L279.12 680.94 L279.38 682.37 L279.63 683.79 L279.87 685.22 L280.11 686.64 L280.35 688.07 L280.58 689.5 L280.81 690.93 L281.03 692.35 L281.25 693.78 L281.47 695.21 L281.69 696.65 L281.89 698.08 L282.1 699.51 L282.3 700.94 L282.5 702.38 L282.69 703.81 L282.89 705.25 L283.07 706.68 L283.26 708.12 L283.44 709.55 L283.62 710.99 L283.79 712.42 L283.96 713.86 L284.13 715.3 L284.29 716.73 L284.45 718.17 L284.61 719.61 L284.77 721.05 L284.92 722.49 L285.07 723.92 L285.21 725.36 L285.36 726.8 L285.5 728.24 L285.63 729.68 L285.77 731.12 L285.9 732.56 L286.03 734 L286.16 735.43 L286.28 736.87 L286.4 738.31 L286.52 739.75 L286.64 741.19 L286.75 742.63 L286.87 744.07 L286.98 745.5 L287.08 746.94 L287.19 748.38 L287.29 749.82 L287.4 751.25 L287.49 752.69 L287.59 754.13 L287.69 755.56 L287.78 757 L287.87 758.43 L287.96 759.87 L288.05 761.3 L288.05 795.6" fill="none" stroke="#000" stroke-width="2.4" stroke-linecap="butt" stroke-linejoin="round" />
<path d="M132.8 503.2 L332.8 503.2 L334.21 503.89 L335.61 504.57 L337.02 505.27 L338.42 505.97 L339.82 506.67 L341.22 507.38 L342.61 508.1 L344.01 508.82 L345.4 509.54 L346.8 510.27 L348.19 511.01 L349.58 511.75 L350.96 512.5 L352.35 513.25 L353.73 514.01 L355.11 514.77 L356.49 515.53 L357.87 516.31 L359.24 517.08 L360.61 517.86 L361.98 518.65 L363.35 519.44 L364.72 520.24 L366.08 521.04 L367.44 521.85 L368.8 522.66 L370.16 523.48 L371.51 524.3 L372.86 525.13 L374.21 525.97 L375.56 526.8 L376.9 527.65 L378.24 528.49 L379.58 529.35 L380.92 530.2 L382.25 531.07 L383.58 531.94 L384.9 532.81 L386.23 533.69 L387.55 534.57 L388.87 535.46 L390.18 536.35 L391.49 537.25 L392.8 538.15 L394.11 539.06 L395.41 539.97 L396.71 540.89 L398.01 541.81 L399.3 542.74 L400.59 543.67 L401.87 544.6 L403.16 545.55 L404.43 546.49 L405.71 547.44 L406.98 548.4 L408.25 549.36 L409.51 550.33 L410.78 551.3 L412.03 552.27 L413.29 553.25 L414.54 554.24 L415.78 555.23 L417.02 556.22 L418.26 557.22 L419.49 558.23 L420.72 559.24 L421.95 560.25 L423.17 561.27 L424.39 562.29 L425.6 563.32 L426.81 564.35 L428.02 565.39 L429.22 566.43 L430.41 567.48 L431.61 568.53 L432.79 569.59 L433.98 570.65 L435.16 571.71 L436.33 572.78 L437.5 573.86 L438.66 574.94 L439.82 576.02 L440.98 577.11 L442.13 578.2 L443.28 579.3 L444.42 580.4 L445.55 581.51 L446.69 582.62 L447.81 583.74 L448.93 584.86 L450.05 585.99 L451.16 587.12 L452.27 588.25 L453.37 589.39 L454.47 590.53 L455.56 591.68 L456.64 592.84 L457.72 593.99 L458.8 595.15 L459.87 596.32 L460.93 597.49 L461.99 598.67 L463.04 599.85 L464.09 601.03 L465.13 602.22 L466.17 603.41 L467.2 604.61 L468.23 605.81 L469.24 607.02 L470.26 608.23 L471.27 609.45 L472.27 610.67 L473.26 611.89 L474.25 613.12 L475.24 614.35 L476.22 615.59 L477.19 616.83 L478.15 618.08 L479.11 619.33 L480.07 620.58 L481.01 621.84 L481.96 623.1 L482.89 624.37 L483.82 625.64 L484.74 626.92 L485.66 628.2 L486.57 629.49 L487.47 630.78 L488.36 632.07 L489.25 633.37 L490.14 634.67 L491.01 635.98 L491.88 637.29 L492.74 638.6 L493.6 639.92 L494.45 641.24 L495.29 642.57 L496.13 643.9 L496.95 645.24 L497.78 646.58 L498.59 647.92 L499.4 649.27 L500.2 650.62 L500.99 651.98 L501.78 653.34 L502.55 654.71 L503.33 656.08 L504.09 657.45 L504.85 658.83 L505.6 660.21 L506.34 661.6 L507.07 662.99 L507.8 664.38 L508.52 665.78 L509.23 667.18 L509.93 668.59 L510.63 670 L511.32 671.41 L512 672.83 L512.67 674.25 L513.34 675.68 L513.99 677.11 L514.64 678.54 L515.28 679.98 L515.92 681.42 L516.54 682.87 L517.16 684.32 L517.77 685.78 L518.37 687.23 L518.96 688.7 L519.55 690.16 L520.12 691.63 L520.69 693.11 L521.25 694.59 L521.8 696.07 L522.34 697.56 L522.88 699.05 L523.4 700.54 L523.92 702.04 L524.43 703.54 L524.93 705.04 L525.42 706.55 L525.9 708.07 L526.38 709.58 L526.84 711.11 L527.3 712.63 L527.74 714.16 L528.18 715.69 L528.61 717.23 L529.03 718.77 L529.44 720.31 L529.84 721.86 L530.24 723.41 L530.62 724.97 L530.99 726.53 L531.36 728.09 L531.72 729.66 L532.06 731.23 L532.4 732.8 L532.45 795.6" fill="none" stroke="#ff00ff" stroke-width="2.1" stroke-linecap="butt" stroke-linejoin="round" />
<path d="M352 339.4 L262.9 324.6" fill="none" stroke="#ff00ff" stroke-width="1.7" stroke-linecap="round" stroke-linejoin="round" />
<path d="M283.4 320.5 L262.9 324.6 L281.4 336.1" fill="none" stroke="#ff00ff" stroke-width="1.3" stroke-linecap="round" stroke-linejoin="round" />
<g opacity="0.999">
<text transform="translate(67.84,26.99) scale(1.0680,1)" font-family="'Liberation Sans', sans-serif" font-weight="normal" font-size="24.5" fill="#000" stroke="#fff" stroke-width="0.15">10</text>
<text transform="translate(33.92,26.99) scale(1.1303,1)" font-family="'Liberation Sans', sans-serif" font-weight="normal" font-size="24.5" fill="#000" stroke="#fff" stroke-width="0.15">2</text>
<line x1="52.3" y1="14.19" x2="64.1" y2="25.99" stroke="#000" stroke-width="1.35" stroke-linecap="butt"/>
<line x1="52.3" y1="25.99" x2="64.1" y2="14.19" stroke="#000" stroke-width="1.35" stroke-linecap="butt"/>
<text transform="translate(98.16,14.69) scale(1.0782,1)" font-family="'Liberation Sans', sans-serif" font-weight="normal" font-size="17.8" fill="#000" stroke="#fff" stroke-width="0.15">19</text>
<text transform="translate(67.84,117.3) scale(1.0680,1)" font-family="'Liberation Sans', sans-serif" font-weight="normal" font-size="24.5" fill="#000" stroke="#fff" stroke-width="0.15">10</text>
<text transform="translate(98.16,105) scale(1.0782,1)" font-family="'Liberation Sans', sans-serif" font-weight="normal" font-size="17.8" fill="#000" stroke="#fff" stroke-width="0.15">19</text>
<text transform="translate(67.84,207.61) scale(1.0680,1)" font-family="'Liberation Sans', sans-serif" font-weight="normal" font-size="24.5" fill="#000" stroke="#fff" stroke-width="0.15">10</text>
<text transform="translate(34.24,207.61) scale(1.0827,1)" font-family="'Liberation Sans', sans-serif" font-weight="normal" font-size="24.5" fill="#000" stroke="#fff" stroke-width="0.15">5</text>
<line x1="52.3" y1="194.81" x2="64.1" y2="206.61" stroke="#000" stroke-width="1.35" stroke-linecap="butt"/>
<line x1="52.3" y1="206.61" x2="64.1" y2="194.81" stroke="#000" stroke-width="1.35" stroke-linecap="butt"/>
<text transform="translate(98.16,195.31) scale(1.0755,1)" font-family="'Liberation Sans', sans-serif" font-weight="normal" font-size="17.8" fill="#000" stroke="#fff" stroke-width="0.15">18</text>
<text transform="translate(67.84,326.99) scale(1.0680,1)" font-family="'Liberation Sans', sans-serif" font-weight="normal" font-size="24.5" fill="#000" stroke="#fff" stroke-width="0.15">10</text>
<text transform="translate(33.92,326.99) scale(1.1303,1)" font-family="'Liberation Sans', sans-serif" font-weight="normal" font-size="24.5" fill="#000" stroke="#fff" stroke-width="0.15">2</text>
<line x1="52.3" y1="314.19" x2="64.1" y2="325.99" stroke="#000" stroke-width="1.35" stroke-linecap="butt"/>
<line x1="52.3" y1="325.99" x2="64.1" y2="314.19" stroke="#000" stroke-width="1.35" stroke-linecap="butt"/>
<text transform="translate(98.16,314.69) scale(1.0755,1)" font-family="'Liberation Sans', sans-serif" font-weight="normal" font-size="17.8" fill="#000" stroke="#fff" stroke-width="0.15">18</text>
<text transform="translate(64.82,414) scale(1.0762,1)" font-family="'Liberation Sans', sans-serif" font-weight="normal" font-size="24.5" fill="#000" stroke="#fff" stroke-width="0.15">10</text>
<line x1="96.1" y1="395.5" x2="107.2" y2="395.5" stroke="#000" stroke-width="1.3" stroke-linecap="butt"/>
<text transform="translate(108.41,401.7) scale(1.3335,1)" font-family="'Liberation Sans', sans-serif" font-weight="normal" font-size="17.8" fill="#000" stroke="#fff" stroke-width="0.15">2</text>
<text transform="translate(64.82,609) scale(1.0762,1)" font-family="'Liberation Sans', sans-serif" font-weight="normal" font-size="24.5" fill="#000" stroke="#fff" stroke-width="0.15">10</text>
<line x1="96.1" y1="590.5" x2="107.2" y2="590.5" stroke="#000" stroke-width="1.3" stroke-linecap="butt"/>
<text transform="translate(108.75,596.7) scale(1.2774,1)" font-family="'Liberation Sans', sans-serif" font-weight="normal" font-size="17.8" fill="#000" stroke="#fff" stroke-width="0.15">3</text>
<text transform="translate(64.82,804) scale(1.0762,1)" font-family="'Liberation Sans', sans-serif" font-weight="normal" font-size="24.5" fill="#000" stroke="#fff" stroke-width="0.15">10</text>
<line x1="96.1" y1="785.5" x2="107.2" y2="785.5" stroke="#000" stroke-width="1.3" stroke-linecap="butt"/>
<text transform="translate(109.12,791.7) scale(1.2015,1)" font-family="'Liberation Sans', sans-serif" font-weight="normal" font-size="17.8" fill="#000" stroke="#fff" stroke-width="0.15">4</text>
<text transform="translate(111.21,826.4) scale(1.0841,1)" font-family="'Liberation Sans', sans-serif" font-weight="normal" font-size="24.5" fill="#000" stroke="#fff" stroke-width="0.15">100</text>
<text transform="translate(441.49,826.4) scale(1.0949,1)" font-family="'Liberation Sans', sans-serif" font-weight="normal" font-size="24.5" fill="#000" stroke="#fff" stroke-width="0.15">1000</text>
<text transform="translate(789.78,826.2) scale(1.0475,1)" font-family="'Liberation Sans', sans-serif" font-weight="normal" font-size="24.5" fill="#000" stroke="#fff" stroke-width="0.15">10</text>
<text transform="translate(819.32,813.6) scale(1.2015,1)" font-family="'Liberation Sans', sans-serif" font-weight="normal" font-size="17.8" fill="#000" stroke="#fff" stroke-width="0.15">4</text>
<text transform="translate(22.1,302.34) rotate(-90) scale(1.0992,1)" font-family="'Liberation Serif', sans-serif" font-weight="normal" font-size="27" fill="#000" stroke="#fff" stroke-width="0.12" letter-spacing="1.6">distance</text>
<text transform="translate(22.1,178.78) rotate(-90) scale(1.0524,1)" font-family="'Liberation Serif', sans-serif" font-weight="normal" font-size="27" fill="#000" stroke="#fff" stroke-width="0.12" letter-spacing="1.6">(cm)</text>
<text transform="translate(22.1,719.42) rotate(-90) scale(1.1503,1)" font-family="'Liberation Serif', sans-serif" font-weight="normal" font-size="27" fill="#000" stroke="#fff" stroke-width="0.12" letter-spacing="1.6">grain</text>
<text transform="translate(22.1,637.88) rotate(-90) scale(1.0668,1)" font-family="'Liberation Serif', sans-serif" font-weight="normal" font-size="27" fill="#000" stroke="#fff" stroke-width="0.12" letter-spacing="1.6">radius</text>
<text transform="translate(22.1,543.95) rotate(-90) scale(1.0312,1)" font-family="'Liberation Serif', sans-serif" font-weight="normal" font-size="27" fill="#000" stroke="#fff" stroke-width="0.12" letter-spacing="1.6">(</text>
<text transform="translate(22.1,534.8) rotate(-90) scale(1.3864,1)" font-family="'Liberation Serif', sans-serif" font-weight="normal" font-size="27" fill="#000" stroke="#fff" stroke-width="0.12" letter-spacing="1.6" font-style="italic">μ</text>
<text transform="translate(22.1,515.9) rotate(-90) scale(1.1074,1)" font-family="'Liberation Serif', sans-serif" font-weight="normal" font-size="27" fill="#000" stroke="#fff" stroke-width="0.12" letter-spacing="1.6">m</text>
<text transform="translate(22.1,491.2) rotate(-90) scale(1.0212,1)" font-family="'Liberation Serif', sans-serif" font-weight="normal" font-size="27" fill="#000" stroke="#fff" stroke-width="0.12" letter-spacing="1.6">)</text>
<text transform="translate(411.2,874.6) scale(1.1013,1)" font-family="'Liberation Serif', sans-serif" font-weight="normal" font-size="27" fill="#000" stroke="#fff" stroke-width="0.12" letter-spacing="1.6">time</text>
<text transform="translate(483.03,874.6) scale(1.0427,1)" font-family="'Liberation Serif', sans-serif" font-weight="normal" font-size="27" fill="#000" stroke="#fff" stroke-width="0.12" letter-spacing="1.6">(yr)</text>
<text transform="translate(150.02,55.7) scale(1.0748,1)" font-family="'Liberation Serif', sans-serif" font-weight="normal" font-size="26.5" fill="#000" stroke="#000" stroke-width="0.5" letter-spacing="1.4">(b)</text>
<text transform="translate(197.54,55.7) scale(1.2810,1)" font-family="'Liberation Serif', sans-serif" font-weight="normal" font-size="26.5" fill="#000" stroke="#000" stroke-width="0.5" letter-spacing="1.4">n</text>
<text transform="translate(214.65,64.3) scale(1.0555,1)" font-family="'Liberation Serif', sans-serif" font-weight="normal" font-size="17.3" fill="#000" stroke="#000" stroke-width="0.5" letter-spacing="1.4">H,1</text>
<text transform="translate(245.19,55.7) scale(1.3634,1)" font-family="'Liberation Serif', sans-serif" font-weight="normal" font-size="26.5" fill="#000" stroke="#000" stroke-width="0.5" letter-spacing="1.4">=</text>
<text transform="translate(263.91,55.6) scale(1.0296,1)" font-family="'Liberation Serif', sans-serif" font-weight="normal" font-size="26.5" fill="#000" stroke="#000" stroke-width="0.5" letter-spacing="1.4">120</text>
<text transform="translate(319.97,55.7) scale(1.1356,1)" font-family="'Liberation Serif', sans-serif" font-weight="normal" font-size="26.5" fill="#000" stroke="#000" stroke-width="0.5" letter-spacing="1.4">cm</text>
<line x1="360.2" y1="37.5" x2="370.4" y2="37.5" stroke="#000" stroke-width="1.8" stroke-linecap="butt"/>
<text transform="translate(372.29,43.5) scale(1.3759,1)" font-family="'Liberation Serif', sans-serif" font-weight="normal" font-size="18.5" fill="#000" stroke="#000" stroke-width="0.5" letter-spacing="1.4">3</text>
<text transform="translate(311.35,122.9) scale(1.0901,1)" font-family="'Liberation Serif', sans-serif" font-weight="normal" font-size="26" fill="#8000ff" stroke="#8000ff" stroke-width="0.55" letter-spacing="1.3">forward</text>
<text transform="translate(553.82,76.8) scale(1.0046,1)" font-family="'Liberation Serif', sans-serif" font-weight="normal" font-size="26" fill="#ff0078" stroke="#ff0078" stroke-width="0.55" letter-spacing="1.0">He</text>
<line x1="587.8" y1="70" x2="603.5" y2="70" stroke="#ff0078" stroke-width="2.0" stroke-linecap="butt"/>
<text transform="translate(605.48,76.8) scale(1.1453,1)" font-family="'Liberation Serif', sans-serif" font-weight="normal" font-size="26" fill="#ff0078" stroke="#ff0078" stroke-width="0.55" letter-spacing="1.3">core</text>
<text transform="translate(683.81,279.5) scale(1.1321,1)" font-family="'Liberation Serif', sans-serif" font-weight="normal" font-size="26" fill="#8000ff" stroke="#8000ff" stroke-width="0.55" letter-spacing="1.3">reverse</text>
<text transform="translate(657.65,146.4) scale(1.0987,1)" font-family="'Liberation Serif', sans-serif" font-weight="normal" font-size="26.3" fill="#4a4a4a" stroke="#4a4a4a" stroke-width="0.25">Si</text>
<text transform="translate(572.94,524.9) scale(1.1038,1)" font-family="'Liberation Serif', sans-serif" font-weight="normal" font-size="26.3" fill="#4a4a4a" stroke="#4a4a4a" stroke-width="0.25">Si</text>
<text transform="translate(159.13,363.3) scale(0.9712,1)" font-family="'Liberation Serif', sans-serif" font-weight="normal" font-size="25" fill="#000" stroke="#000" stroke-width="0.6">C</text>
<text transform="translate(270.08,614.8) scale(0.9223,1)" font-family="'Liberation Serif', sans-serif" font-weight="normal" font-size="25" fill="#000" stroke="#000" stroke-width="0.6">C</text>
<text transform="translate(357.27,351.8) scale(1.0500,1)" font-family="'Liberation Serif', sans-serif" font-weight="normal" font-size="25.8" fill="#ff00ff" stroke="#ff00ff" stroke-width="0.5" letter-spacing="1.0">Si</text>
<text transform="translate(381.63,351.8) scale(0.8418,1)" font-family="'Liberation Serif', sans-serif" font-weight="normal" font-size="25.8" fill="#ff00ff" stroke="#ff00ff" stroke-width="0.6">O</text>
<text transform="translate(396.96,360.8) scale(1.2317,1)" font-family="'Liberation Serif', sans-serif" font-weight="normal" font-size="20.5" fill="#ff00ff" stroke="#ff00ff" stroke-width="0.6">2</text>
<text transform="translate(476.77,603.7) scale(1.0500,1)" font-family="'Liberation Serif', sans-serif" font-weight="normal" font-size="25.8" fill="#ff00ff" stroke="#ff00ff" stroke-width="0.5" letter-spacing="1.0">Si</text>
<text transform="translate(501.13,603.7) scale(0.8418,1)" font-family="'Liberation Serif', sans-serif" font-weight="normal" font-size="25.8" fill="#ff00ff" stroke="#ff00ff" stroke-width="0.6">O</text>
<text transform="translate(516.46,612.7) scale(1.2317,1)" font-family="'Liberation Serif', sans-serif" font-weight="normal" font-size="20.5" fill="#ff00ff" stroke="#ff00ff" stroke-width="0.6">2</text>
</g>
</svg>
</body></html>
